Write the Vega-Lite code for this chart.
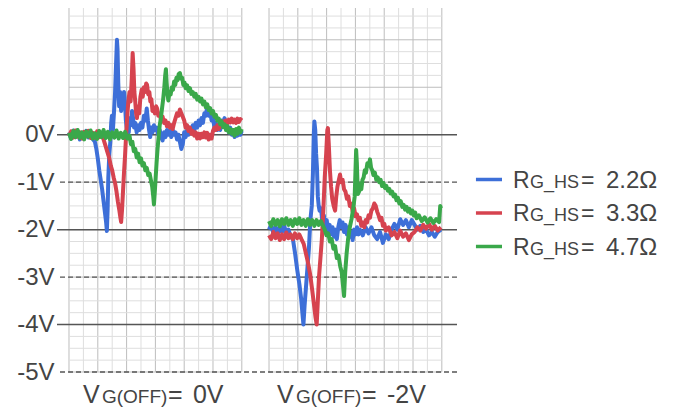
{
  "$schema": "https://vega.github.io/schema/vega-lite/v6.json",
  "width": 400,
  "height": 364,
  "autosize": {"type": "none"},
  "padding": {"left": 57, "top": 8, "right": 226, "bottom": 36},
  "background": "white",
  "config": {
    "view": {"stroke": null},
    "text": {"font": "Liberation Sans"},
    "axisY": {"domain": false, "ticks": false, "grid": false, "labelFontSize": 24, "labelFont": "Liberation Sans",
              "labelColor": "#444444", "labelPadding": 3, "titleFontSize": 0}
  },
  "datasets": {
    "traces": [
      {"k": "B0", "s": "2.2Ω", "p": "0V"},
      {"k": "B2", "s": "2.2Ω", "p": "-2V"},
      {"k": "R0", "s": "3.3Ω", "p": "0V"},
      {"k": "R2", "s": "3.3Ω", "p": "-2V"},
      {"k": "G0", "s": "4.7Ω", "p": "0V"},
      {"k": "G2", "s": "4.7Ω", "p": "-2V"}
    ],
    "levels": [{"v": 0}, {"v": -1}, {"v": -2}, {"v": -3}, {"v": -4}, {"v": -5}],
    "vgrid": [
      {"t": 0}, {"t": 1}, {"t": 2}, {"t": 3}, {"t": 4}, {"t": 5}, {"t": 6}, {"t": 7}, {"t": 8}, {"t": 9}, {"t": 10}, {"t": 11}, {"t": 12},
      {"t": 13.89}, {"t": 14.89}, {"t": 15.89}, {"t": 16.89}, {"t": 17.89}, {"t": 18.89}, {"t": 19.89}, {"t": 20.89}, {"t": 21.89}, {"t": 22.89}, {"t": 23.89}, {"t": 24.89}, {"t": 25.89}
    ],
    "hgrid": [
      {"v": -5}, {"v": -4.75}, {"v": -4.5}, {"v": -4.25}, {"v": -4}, {"v": -3.75}, {"v": -3.5}, {"v": -3.25},
      {"v": -3}, {"v": -2.75}, {"v": -2.5}, {"v": -2.25}, {"v": -2}, {"v": -1.75}, {"v": -1.5}, {"v": -1.25},
      {"v": -1}, {"v": -0.75}, {"v": -0.5}, {"v": -0.25}, {"v": 0}, {"v": 0.25}, {"v": 0.5}, {"v": 0.75},
      {"v": 1}, {"v": 1.25}, {"v": 1.5}, {"v": 1.75}, {"v": 2}, {"v": 2.25}, {"v": 2.5}
    ],
    "captions": [{"t": 0.97, "g": "0V"}, {"t": 14.44, "g": "-2V"}],
    "legend": [{"s": "2.2Ω"}, {"s": "3.3Ω"}, {"s": "4.7Ω"}],
    "pts": [
      {"k":"B0","t":0,"v":0.05},{"k":"B0","t":0.15,"v":-0.08},{"k":"B0","t":0.3,"v":0.09},{"k":"B0","t":0.45,"v":-0.05},{"k":"B0","t":0.6,"v":0.07},{"k":"B0","t":0.75,"v":-0.1},{"k":"B0","t":0.9,"v":0.04},{"k":"B0","t":1.05,"v":-0.07},{"k":"B0","t":1.2,"v":0.08},{"k":"B0","t":1.35,"v":-0.06},{"k":"B0","t":1.5,"v":0.03},{"k":"B0","t":1.65,"v":-0.09},{"k":"B0","t":1.8,"v":-0.15},{"k":"B0","t":1.9,"v":-0.3},{"k":"B0","t":2.0,"v":-0.5},{"k":"B0","t":2.1,"v":-0.75},{"k":"B0","t":2.2,"v":-0.95},{"k":"B0","t":2.3,"v":-1.15},{"k":"B0","t":2.4,"v":-1.4},{"k":"B0","t":2.5,"v":-1.65},{"k":"B0","t":2.58,"v":-1.85},{"k":"B0","t":2.63,"v":-2.03},{"k":"B0","t":2.68,"v":-1.6},{"k":"B0","t":2.73,"v":-0.9},{"k":"B0","t":2.8,"v":-0.4},{"k":"B0","t":2.87,"v":-0.15},{"k":"B0","t":2.93,"v":0.25},{"k":"B0","t":2.98,"v":0.4},{"k":"B0","t":3.05,"v":0.1},{"k":"B0","t":3.12,"v":0.45},{"k":"B0","t":3.2,"v":0.9},{"k":"B0","t":3.27,"v":1.5},{"k":"B0","t":3.33,"v":2.0},{"k":"B0","t":3.37,"v":1.8},{"k":"B0","t":3.42,"v":1.1},{"k":"B0","t":3.48,"v":0.6},{"k":"B0","t":3.55,"v":0.9},{"k":"B0","t":3.62,"v":0.5},{"k":"B0","t":3.68,"v":0.75},{"k":"B0","t":3.75,"v":0.55},{"k":"B0","t":3.82,"v":0.9},{"k":"B0","t":3.88,"v":0.7},{"k":"B0","t":3.95,"v":0.3},{"k":"B0","t":4.02,"v":0.1},{"k":"B0","t":4.08,"v":0.2},{"k":"B0","t":4.15,"v":0.05},{"k":"B0","t":4.22,"v":0.35},{"k":"B0","t":4.3,"v":0.2},{"k":"B0","t":4.38,"v":0.5},{"k":"B0","t":4.45,"v":0.35},{"k":"B0","t":4.52,"v":0.15},{"k":"B0","t":4.6,"v":0.25},{"k":"B0","t":4.7,"v":0.05},{"k":"B0","t":4.8,"v":0.2},{"k":"B0","t":4.9,"v":0.1},{"k":"B0","t":5.0,"v":0.25},{"k":"B0","t":5.1,"v":0.15},{"k":"B0","t":5.2,"v":0.4},{"k":"B0","t":5.3,"v":0.3},{"k":"B0","t":5.4,"v":0.55},{"k":"B0","t":5.48,"v":0.3},{"k":"B0","t":5.56,"v":0.1},{"k":"B0","t":5.64,"v":-0.05},{"k":"B0","t":5.72,"v":0.15},{"k":"B0","t":5.8,"v":0.05},{"k":"B0","t":5.9,"v":0.2},{"k":"B0","t":6.0,"v":0.1},{"k":"B0","t":6.1,"v":0.15},{"k":"B0","t":6.2,"v":0.0},{"k":"B0","t":6.3,"v":0.1},{"k":"B0","t":6.4,"v":-0.05},{"k":"B0","t":6.5,"v":-0.12},{"k":"B0","t":6.6,"v":0.05},{"k":"B0","t":6.7,"v":-0.05},{"k":"B0","t":6.8,"v":0.1},{"k":"B0","t":6.9,"v":0.0},{"k":"B0","t":7.0,"v":0.08},{"k":"B0","t":7.1,"v":-0.05},{"k":"B0","t":7.2,"v":0.1},{"k":"B0","t":7.3,"v":0.0},{"k":"B0","t":7.4,"v":0.05},{"k":"B0","t":7.5,"v":-0.1},{"k":"B0","t":7.6,"v":0.0},{"k":"B0","t":7.7,"v":-0.15},{"k":"B0","t":7.8,"v":-0.3},{"k":"B0","t":7.9,"v":-0.2},{"k":"B0","t":8.0,"v":0.05},{"k":"B0","t":8.1,"v":-0.05},{"k":"B0","t":8.2,"v":0.1},{"k":"B0","t":8.3,"v":0.0},{"k":"B0","t":8.4,"v":0.15},{"k":"B0","t":8.5,"v":0.05},{"k":"B0","t":8.6,"v":0.2},{"k":"B0","t":8.7,"v":0.1},{"k":"B0","t":8.8,"v":0.25},{"k":"B0","t":8.9,"v":0.15},{"k":"B0","t":9.0,"v":0.3},{"k":"B0","t":9.1,"v":0.2},{"k":"B0","t":9.2,"v":0.35},{"k":"B0","t":9.3,"v":0.25},{"k":"B0","t":9.4,"v":0.45},{"k":"B0","t":9.5,"v":0.4},{"k":"B0","t":9.6,"v":0.6},{"k":"B0","t":9.7,"v":0.4},{"k":"B0","t":9.8,"v":0.5},{"k":"B0","t":9.9,"v":0.3},{"k":"B0","t":10.0,"v":0.35},{"k":"B0","t":10.1,"v":0.15},{"k":"B0","t":10.2,"v":0.25},{"k":"B0","t":10.3,"v":0.1},{"k":"B0","t":10.4,"v":0.2},{"k":"B0","t":10.5,"v":0.1},{"k":"B0","t":10.6,"v":0.3},{"k":"B0","t":10.7,"v":0.2},{"k":"B0","t":10.8,"v":0.35},{"k":"B0","t":10.9,"v":0.25},{"k":"B0","t":11.0,"v":0.15},{"k":"B0","t":11.1,"v":0.05},{"k":"B0","t":11.2,"v":0.15},{"k":"B0","t":11.3,"v":0.0},{"k":"B0","t":11.4,"v":0.1},{"k":"B0","t":11.5,"v":-0.05},{"k":"B0","t":11.6,"v":0.1},{"k":"B0","t":11.7,"v":-0.02},{"k":"B0","t":11.8,"v":0.12},{"k":"B0","t":11.9,"v":0.0},{"k":"B0","t":12.0,"v":0.08},

      {"k":"B2","t":13.89,"v":-2.0},{"k":"B2","t":14.04,"v":-1.9},{"k":"B2","t":14.19,"v":-2.08},{"k":"B2","t":14.34,"v":-1.95},{"k":"B2","t":14.49,"v":-2.1},{"k":"B2","t":14.64,"v":-1.92},{"k":"B2","t":14.79,"v":-2.05},{"k":"B2","t":14.94,"v":-1.9},{"k":"B2","t":15.09,"v":-2.1},{"k":"B2","t":15.24,"v":-2.0},{"k":"B2","t":15.4,"v":-2.15},{"k":"B2","t":15.55,"v":-2.2},{"k":"B2","t":15.7,"v":-2.5},{"k":"B2","t":15.85,"v":-2.85},{"k":"B2","t":16.0,"v":-3.15},{"k":"B2","t":16.12,"v":-3.45},{"k":"B2","t":16.22,"v":-3.8},{"k":"B2","t":16.28,"v":-4.0},{"k":"B2","t":16.36,"v":-3.6},{"k":"B2","t":16.46,"v":-3.2},{"k":"B2","t":16.56,"v":-2.8},{"k":"B2","t":16.66,"v":-2.4},{"k":"B2","t":16.76,"v":-1.8},{"k":"B2","t":16.86,"v":-1.5},{"k":"B2","t":16.94,"v":-0.8},{"k":"B2","t":17.0,"v":0.0},{"k":"B2","t":17.04,"v":0.28},{"k":"B2","t":17.1,"v":0.1},{"k":"B2","t":17.16,"v":-0.4},{"k":"B2","t":17.22,"v":-0.7},{"k":"B2","t":17.28,"v":-1.3},{"k":"B2","t":17.34,"v":-1.5},{"k":"B2","t":17.4,"v":-1.6},{"k":"B2","t":17.5,"v":-1.55},{"k":"B2","t":17.6,"v":-1.85},{"k":"B2","t":17.7,"v":-1.7},{"k":"B2","t":17.8,"v":-1.95},{"k":"B2","t":17.9,"v":-1.8},{"k":"B2","t":18.0,"v":-2.05},{"k":"B2","t":18.1,"v":-1.9},{"k":"B2","t":18.2,"v":-2.1},{"k":"B2","t":18.3,"v":-1.95},{"k":"B2","t":18.4,"v":-2.15},{"k":"B2","t":18.5,"v":-2.0},{"k":"B2","t":18.6,"v":-2.2},{"k":"B2","t":18.7,"v":-1.95},{"k":"B2","t":18.8,"v":-1.8},{"k":"B2","t":18.9,"v":-1.95},{"k":"B2","t":19.0,"v":-1.85},{"k":"B2","t":19.1,"v":-2.05},{"k":"B2","t":19.2,"v":-1.9},{"k":"B2","t":19.3,"v":-2.1},{"k":"B2","t":19.4,"v":-1.95},{"k":"B2","t":19.5,"v":-2.15},{"k":"B2","t":19.6,"v":-2.05},{"k":"B2","t":19.7,"v":-2.22},{"k":"B2","t":19.8,"v":-2.0},{"k":"B2","t":19.9,"v":-2.1},{"k":"B2","t":20.0,"v":-1.95},{"k":"B2","t":20.1,"v":-2.1},{"k":"B2","t":20.2,"v":-2.0},{"k":"B2","t":20.4,"v":-2.12},{"k":"B2","t":20.6,"v":-1.95},{"k":"B2","t":20.8,"v":-2.08},{"k":"B2","t":21.0,"v":-1.95},{"k":"B2","t":21.2,"v":-2.12},{"k":"B2","t":21.4,"v":-2.2},{"k":"B2","t":21.6,"v":-2.05},{"k":"B2","t":21.8,"v":-2.28},{"k":"B2","t":22.0,"v":-2.1},{"k":"B2","t":22.2,"v":-2.2},{"k":"B2","t":22.4,"v":-2.0},{"k":"B2","t":22.6,"v":-1.88},{"k":"B2","t":22.8,"v":-2.0},{"k":"B2","t":23.0,"v":-1.78},{"k":"B2","t":23.2,"v":-1.9},{"k":"B2","t":23.4,"v":-1.8},{"k":"B2","t":23.6,"v":-1.95},{"k":"B2","t":23.8,"v":-1.8},{"k":"B2","t":24.0,"v":-1.9},{"k":"B2","t":24.2,"v":-2.0},{"k":"B2","t":24.4,"v":-1.92},{"k":"B2","t":24.6,"v":-2.05},{"k":"B2","t":24.8,"v":-2.0},{"k":"B2","t":25.0,"v":-2.12},{"k":"B2","t":25.2,"v":-2.05},{"k":"B2","t":25.4,"v":-2.15},{"k":"B2","t":25.6,"v":-2.05},{"k":"B2","t":25.83,"v":-2.0},

      {"k":"R0","t":0,"v":-0.03},{"k":"R0","t":0.15,"v":0.07},{"k":"R0","t":0.3,"v":-0.06},{"k":"R0","t":0.45,"v":0.09},{"k":"R0","t":0.6,"v":-0.04},{"k":"R0","t":0.75,"v":0.05},{"k":"R0","t":0.9,"v":-0.08},{"k":"R0","t":1.05,"v":0.06},{"k":"R0","t":1.2,"v":-0.03},{"k":"R0","t":1.35,"v":0.08},{"k":"R0","t":1.5,"v":-0.07},{"k":"R0","t":1.65,"v":0.04},{"k":"R0","t":1.8,"v":-0.06},{"k":"R0","t":1.95,"v":0.07},{"k":"R0","t":2.1,"v":-0.05},{"k":"R0","t":2.25,"v":0.03},{"k":"R0","t":2.4,"v":-0.1},{"k":"R0","t":2.5,"v":-0.2},{"k":"R0","t":2.6,"v":-0.3},{"k":"R0","t":2.7,"v":-0.4},{"k":"R0","t":2.8,"v":-0.5},{"k":"R0","t":2.9,"v":-0.65},{"k":"R0","t":3.0,"v":-0.75},{"k":"R0","t":3.1,"v":-0.9},{"k":"R0","t":3.2,"v":-1.02},{"k":"R0","t":3.3,"v":-1.2},{"k":"R0","t":3.4,"v":-1.42},{"k":"R0","t":3.5,"v":-1.6},{"k":"R0","t":3.57,"v":-1.75},{"k":"R0","t":3.62,"v":-1.84},{"k":"R0","t":3.68,"v":-1.6},{"k":"R0","t":3.75,"v":-1.2},{"k":"R0","t":3.82,"v":-0.8},{"k":"R0","t":3.89,"v":-0.45},{"k":"R0","t":3.95,"v":-0.1},{"k":"R0","t":4.0,"v":0.15},{"k":"R0","t":4.06,"v":0.45},{"k":"R0","t":4.12,"v":0.7},{"k":"R0","t":4.2,"v":0.9},{"k":"R0","t":4.28,"v":0.7},{"k":"R0","t":4.36,"v":1.2},{"k":"R0","t":4.42,"v":1.72},{"k":"R0","t":4.48,"v":1.4},{"k":"R0","t":4.54,"v":0.9},{"k":"R0","t":4.6,"v":0.7},{"k":"R0","t":4.66,"v":0.45},{"k":"R0","t":4.72,"v":0.35},{"k":"R0","t":4.8,"v":0.6},{"k":"R0","t":4.88,"v":0.45},{"k":"R0","t":4.96,"v":0.8},{"k":"R0","t":5.05,"v":0.95},{"k":"R0","t":5.12,"v":0.8},{"k":"R0","t":5.2,"v":1.0},{"k":"R0","t":5.28,"v":0.9},{"k":"R0","t":5.36,"v":1.08},{"k":"R0","t":5.42,"v":1.05},{"k":"R0","t":5.5,"v":0.85},{"k":"R0","t":5.58,"v":0.9},{"k":"R0","t":5.65,"v":0.7},{"k":"R0","t":5.72,"v":0.75},{"k":"R0","t":5.8,"v":0.5},{"k":"R0","t":5.88,"v":0.55},{"k":"R0","t":5.96,"v":0.45},{"k":"R0","t":6.05,"v":0.6},{"k":"R0","t":6.12,"v":0.55},{"k":"R0","t":6.2,"v":0.4},{"k":"R0","t":6.3,"v":0.45},{"k":"R0","t":6.4,"v":0.3},{"k":"R0","t":6.5,"v":0.38},{"k":"R0","t":6.6,"v":0.25},{"k":"R0","t":6.7,"v":0.3},{"k":"R0","t":6.8,"v":0.18},{"k":"R0","t":6.9,"v":0.25},{"k":"R0","t":7.0,"v":0.15},{"k":"R0","t":7.1,"v":0.2},{"k":"R0","t":7.2,"v":0.12},{"k":"R0","t":7.3,"v":0.25},{"k":"R0","t":7.4,"v":0.35},{"k":"R0","t":7.5,"v":0.45},{"k":"R0","t":7.6,"v":0.4},{"k":"R0","t":7.7,"v":0.53},{"k":"R0","t":7.8,"v":0.45},{"k":"R0","t":7.9,"v":0.38},{"k":"R0","t":8.0,"v":0.3},{"k":"R0","t":8.1,"v":0.15},{"k":"R0","t":8.2,"v":0.2},{"k":"R0","t":8.3,"v":0.08},{"k":"R0","t":8.4,"v":0.15},{"k":"R0","t":8.5,"v":0.02},{"k":"R0","t":8.6,"v":0.08},{"k":"R0","t":8.7,"v":-0.02},{"k":"R0","t":8.8,"v":0.05},{"k":"R0","t":8.9,"v":-0.08},{"k":"R0","t":9.0,"v":0.02},{"k":"R0","t":9.1,"v":-0.08},{"k":"R0","t":9.2,"v":0.02},{"k":"R0","t":9.3,"v":-0.05},{"k":"R0","t":9.4,"v":0.05},{"k":"R0","t":9.5,"v":-0.06},{"k":"R0","t":9.6,"v":0.04},{"k":"R0","t":9.7,"v":-0.1},{"k":"R0","t":9.8,"v":0.0},{"k":"R0","t":9.9,"v":-0.08},{"k":"R0","t":10.0,"v":0.08},{"k":"R0","t":10.1,"v":0.15},{"k":"R0","t":10.2,"v":0.1},{"k":"R0","t":10.3,"v":0.2},{"k":"R0","t":10.4,"v":0.12},{"k":"R0","t":10.5,"v":0.22},{"k":"R0","t":10.6,"v":0.18},{"k":"R0","t":10.7,"v":0.28},{"k":"R0","t":10.8,"v":0.22},{"k":"R0","t":10.9,"v":0.3},{"k":"R0","t":11.0,"v":0.24},{"k":"R0","t":11.1,"v":0.32},{"k":"R0","t":11.2,"v":0.26},{"k":"R0","t":11.3,"v":0.34},{"k":"R0","t":11.4,"v":0.26},{"k":"R0","t":11.5,"v":0.32},{"k":"R0","t":11.6,"v":0.25},{"k":"R0","t":11.7,"v":0.34},{"k":"R0","t":11.8,"v":0.27},{"k":"R0","t":11.9,"v":0.33},{"k":"R0","t":12.0,"v":0.3},

      {"k":"R2","t":13.89,"v":-2.12},{"k":"R2","t":14.04,"v":-2.2},{"k":"R2","t":14.19,"v":-2.05},{"k":"R2","t":14.34,"v":-2.18},{"k":"R2","t":14.49,"v":-2.08},{"k":"R2","t":14.64,"v":-2.22},{"k":"R2","t":14.79,"v":-2.1},{"k":"R2","t":14.94,"v":-2.2},{"k":"R2","t":15.09,"v":-2.06},{"k":"R2","t":15.24,"v":-2.18},{"k":"R2","t":15.39,"v":-2.1},{"k":"R2","t":15.54,"v":-2.2},{"k":"R2","t":15.69,"v":-2.08},{"k":"R2","t":15.84,"v":-2.18},{"k":"R2","t":15.99,"v":-2.1},{"k":"R2","t":16.14,"v":-2.2},{"k":"R2","t":16.3,"v":-2.3},{"k":"R2","t":16.45,"v":-2.5},{"k":"R2","t":16.6,"v":-2.7},{"k":"R2","t":16.75,"v":-2.95},{"k":"R2","t":16.9,"v":-3.3},{"k":"R2","t":17.02,"v":-3.6},{"k":"R2","t":17.12,"v":-3.85},{"k":"R2","t":17.2,"v":-4.0},{"k":"R2","t":17.28,"v":-3.5},{"k":"R2","t":17.36,"v":-3.0},{"k":"R2","t":17.46,"v":-2.6},{"k":"R2","t":17.56,"v":-2.2},{"k":"R2","t":17.66,"v":-1.6},{"k":"R2","t":17.76,"v":-0.9},{"k":"R2","t":17.86,"v":-0.4},{"k":"R2","t":17.94,"v":0.1},{"k":"R2","t":17.98,"v":0.14},{"k":"R2","t":18.04,"v":-0.2},{"k":"R2","t":18.12,"v":-0.75},{"k":"R2","t":18.2,"v":-1.1},{"k":"R2","t":18.28,"v":-1.35},{"k":"R2","t":18.38,"v":-1.5},{"k":"R2","t":18.48,"v":-1.6},{"k":"R2","t":18.56,"v":-1.3},{"k":"R2","t":18.64,"v":-1.1},{"k":"R2","t":18.74,"v":-0.95},{"k":"R2","t":18.82,"v":-0.84},{"k":"R2","t":18.9,"v":-1.0},{"k":"R2","t":19.0,"v":-0.95},{"k":"R2","t":19.1,"v":-1.15},{"k":"R2","t":19.2,"v":-1.2},{"k":"R2","t":19.3,"v":-1.35},{"k":"R2","t":19.4,"v":-1.3},{"k":"R2","t":19.5,"v":-1.5},{"k":"R2","t":19.6,"v":-1.45},{"k":"R2","t":19.7,"v":-1.62},{"k":"R2","t":19.8,"v":-1.55},{"k":"R2","t":19.9,"v":-1.72},{"k":"R2","t":20.0,"v":-1.68},{"k":"R2","t":20.1,"v":-1.8},{"k":"R2","t":20.2,"v":-1.75},{"k":"R2","t":20.3,"v":-1.92},{"k":"R2","t":20.4,"v":-1.85},{"k":"R2","t":20.5,"v":-1.95},{"k":"R2","t":20.6,"v":-1.8},{"k":"R2","t":20.7,"v":-1.85},{"k":"R2","t":20.8,"v":-1.7},{"k":"R2","t":20.9,"v":-1.75},{"k":"R2","t":21.0,"v":-1.6},{"k":"R2","t":21.1,"v":-1.55},{"k":"R2","t":21.2,"v":-1.45},{"k":"R2","t":21.3,"v":-1.5},{"k":"R2","t":21.4,"v":-1.62},{"k":"R2","t":21.5,"v":-1.7},{"k":"R2","t":21.6,"v":-1.8},{"k":"R2","t":21.7,"v":-1.75},{"k":"R2","t":21.8,"v":-1.92},{"k":"R2","t":21.9,"v":-1.88},{"k":"R2","t":22.0,"v":-2.02},{"k":"R2","t":22.2,"v":-1.95},{"k":"R2","t":22.4,"v":-2.12},{"k":"R2","t":22.6,"v":-2.05},{"k":"R2","t":22.8,"v":-2.18},{"k":"R2","t":23.0,"v":-2.02},{"k":"R2","t":23.2,"v":-2.15},{"k":"R2","t":23.4,"v":-2.08},{"k":"R2","t":23.6,"v":-2.22},{"k":"R2","t":23.8,"v":-2.1},{"k":"R2","t":24.0,"v":-2.05},{"k":"R2","t":24.2,"v":-1.95},{"k":"R2","t":24.4,"v":-2.02},{"k":"R2","t":24.6,"v":-1.9},{"k":"R2","t":24.8,"v":-1.98},{"k":"R2","t":25.0,"v":-1.88},{"k":"R2","t":25.2,"v":-2.0},{"k":"R2","t":25.4,"v":-1.92},{"k":"R2","t":25.6,"v":-2.02},{"k":"R2","t":25.83,"v":-1.95},

      {"k":"G0","t":0,"v":0.04},{"k":"G0","t":0.15,"v":-0.09},{"k":"G0","t":0.3,"v":0.08},{"k":"G0","t":0.45,"v":-0.05},{"k":"G0","t":0.6,"v":0.1},{"k":"G0","t":0.75,"v":-0.07},{"k":"G0","t":0.9,"v":0.05},{"k":"G0","t":1.05,"v":-0.1},{"k":"G0","t":1.2,"v":0.07},{"k":"G0","t":1.35,"v":-0.04},{"k":"G0","t":1.5,"v":0.09},{"k":"G0","t":1.65,"v":-0.08},{"k":"G0","t":1.8,"v":0.03},{"k":"G0","t":1.95,"v":-0.09},{"k":"G0","t":2.1,"v":0.08},{"k":"G0","t":2.25,"v":-0.05},{"k":"G0","t":2.4,"v":0.1},{"k":"G0","t":2.55,"v":-0.07},{"k":"G0","t":2.7,"v":0.06},{"k":"G0","t":2.85,"v":-0.1},{"k":"G0","t":3.0,"v":0.05},{"k":"G0","t":3.15,"v":-0.06},{"k":"G0","t":3.3,"v":0.09},{"k":"G0","t":3.45,"v":-0.08},{"k":"G0","t":3.6,"v":0.04},{"k":"G0","t":3.75,"v":-0.07},{"k":"G0","t":3.9,"v":0.06},{"k":"G0","t":4.05,"v":-0.08},{"k":"G0","t":4.2,"v":-0.02},{"k":"G0","t":4.3,"v":-0.2},{"k":"G0","t":4.4,"v":-0.15},{"k":"G0","t":4.5,"v":-0.35},{"k":"G0","t":4.6,"v":-0.3},{"k":"G0","t":4.7,"v":-0.48},{"k":"G0","t":4.8,"v":-0.4},{"k":"G0","t":4.9,"v":-0.58},{"k":"G0","t":5.0,"v":-0.5},{"k":"G0","t":5.1,"v":-0.65},{"k":"G0","t":5.2,"v":-0.6},{"k":"G0","t":5.3,"v":-0.75},{"k":"G0","t":5.4,"v":-0.7},{"k":"G0","t":5.5,"v":-0.85},{"k":"G0","t":5.6,"v":-0.82},{"k":"G0","t":5.7,"v":-0.98},{"k":"G0","t":5.78,"v":-1.1},{"k":"G0","t":5.85,"v":-1.3},{"k":"G0","t":5.9,"v":-1.47},{"k":"G0","t":5.96,"v":-1.2},{"k":"G0","t":6.02,"v":-0.9},{"k":"G0","t":6.08,"v":-0.6},{"k":"G0","t":6.15,"v":-0.3},{"k":"G0","t":6.22,"v":-0.05},{"k":"G0","t":6.3,"v":0.2},{"k":"G0","t":6.38,"v":0.35},{"k":"G0","t":6.46,"v":0.55},{"k":"G0","t":6.54,"v":0.75},{"k":"G0","t":6.62,"v":1.0},{"k":"G0","t":6.68,"v":1.25},{"k":"G0","t":6.73,"v":1.38},{"k":"G0","t":6.78,"v":1.1},{"k":"G0","t":6.84,"v":0.85},{"k":"G0","t":6.9,"v":0.72},{"k":"G0","t":6.98,"v":0.9},{"k":"G0","t":7.06,"v":0.85},{"k":"G0","t":7.14,"v":1.0},{"k":"G0","t":7.22,"v":0.95},{"k":"G0","t":7.3,"v":1.12},{"k":"G0","t":7.38,"v":1.05},{"k":"G0","t":7.46,"v":1.2},{"k":"G0","t":7.54,"v":1.15},{"k":"G0","t":7.62,"v":1.28},{"k":"G0","t":7.7,"v":1.3},{"k":"G0","t":7.78,"v":1.18},{"k":"G0","t":7.86,"v":1.2},{"k":"G0","t":7.94,"v":1.05},{"k":"G0","t":8.02,"v":1.1},{"k":"G0","t":8.1,"v":0.98},{"k":"G0","t":8.2,"v":1.04},{"k":"G0","t":8.3,"v":0.92},{"k":"G0","t":8.4,"v":0.98},{"k":"G0","t":8.5,"v":0.86},{"k":"G0","t":8.6,"v":0.9},{"k":"G0","t":8.7,"v":0.8},{"k":"G0","t":8.8,"v":0.86},{"k":"G0","t":8.9,"v":0.74},{"k":"G0","t":9.0,"v":0.8},{"k":"G0","t":9.1,"v":0.7},{"k":"G0","t":9.2,"v":0.76},{"k":"G0","t":9.3,"v":0.64},{"k":"G0","t":9.4,"v":0.7},{"k":"G0","t":9.5,"v":0.58},{"k":"G0","t":9.6,"v":0.64},{"k":"G0","t":9.7,"v":0.52},{"k":"G0","t":9.8,"v":0.56},{"k":"G0","t":9.9,"v":0.45},{"k":"G0","t":10.0,"v":0.5},{"k":"G0","t":10.1,"v":0.38},{"k":"G0","t":10.2,"v":0.42},{"k":"G0","t":10.3,"v":0.3},{"k":"G0","t":10.4,"v":0.34},{"k":"G0","t":10.5,"v":0.22},{"k":"G0","t":10.6,"v":0.28},{"k":"G0","t":10.7,"v":0.16},{"k":"G0","t":10.8,"v":0.22},{"k":"G0","t":10.9,"v":0.1},{"k":"G0","t":11.0,"v":0.18},{"k":"G0","t":11.1,"v":0.05},{"k":"G0","t":11.2,"v":0.12},{"k":"G0","t":11.3,"v":0.02},{"k":"G0","t":11.4,"v":0.1},{"k":"G0","t":11.5,"v":-0.02},{"k":"G0","t":11.6,"v":0.12},{"k":"G0","t":11.7,"v":0.02},{"k":"G0","t":11.8,"v":0.15},{"k":"G0","t":11.9,"v":0.05},{"k":"G0","t":12.0,"v":0.12},

      {"k":"G2","t":13.89,"v":-1.82},{"k":"G2","t":14.04,"v":-1.92},{"k":"G2","t":14.19,"v":-1.78},{"k":"G2","t":14.34,"v":-1.9},{"k":"G2","t":14.49,"v":-1.8},{"k":"G2","t":14.64,"v":-1.93},{"k":"G2","t":14.79,"v":-1.78},{"k":"G2","t":14.94,"v":-1.88},{"k":"G2","t":15.09,"v":-1.76},{"k":"G2","t":15.24,"v":-1.9},{"k":"G2","t":15.39,"v":-1.8},{"k":"G2","t":15.54,"v":-1.92},{"k":"G2","t":15.69,"v":-1.78},{"k":"G2","t":15.84,"v":-1.88},{"k":"G2","t":15.99,"v":-1.76},{"k":"G2","t":16.14,"v":-1.9},{"k":"G2","t":16.29,"v":-1.8},{"k":"G2","t":16.44,"v":-1.92},{"k":"G2","t":16.59,"v":-1.78},{"k":"G2","t":16.74,"v":-1.9},{"k":"G2","t":16.89,"v":-1.8},{"k":"G2","t":17.04,"v":-1.92},{"k":"G2","t":17.19,"v":-1.8},{"k":"G2","t":17.34,"v":-1.9},{"k":"G2","t":17.49,"v":-1.82},{"k":"G2","t":17.64,"v":-1.92},{"k":"G2","t":17.76,"v":-2.0},{"k":"G2","t":17.88,"v":-2.12},{"k":"G2","t":18.0,"v":-2.08},{"k":"G2","t":18.12,"v":-2.25},{"k":"G2","t":18.24,"v":-2.2},{"k":"G2","t":18.36,"v":-2.4},{"k":"G2","t":18.48,"v":-2.35},{"k":"G2","t":18.6,"v":-2.6},{"k":"G2","t":18.72,"v":-2.55},{"k":"G2","t":18.84,"v":-2.78},{"k":"G2","t":18.94,"v":-2.9},{"k":"G2","t":19.02,"v":-3.15},{"k":"G2","t":19.1,"v":-3.4},{"k":"G2","t":19.18,"v":-2.9},{"k":"G2","t":19.28,"v":-2.5},{"k":"G2","t":19.38,"v":-2.2},{"k":"G2","t":19.5,"v":-1.95},{"k":"G2","t":19.62,"v":-1.78},{"k":"G2","t":19.74,"v":-1.55},{"k":"G2","t":19.84,"v":-1.3},{"k":"G2","t":19.9,"v":-0.7},{"k":"G2","t":19.94,"v":-0.32},{"k":"G2","t":19.99,"v":-0.6},{"k":"G2","t":20.06,"v":-1.25},{"k":"G2","t":20.14,"v":-1.2},{"k":"G2","t":20.22,"v":-1.05},{"k":"G2","t":20.3,"v":-1.15},{"k":"G2","t":20.38,"v":-0.95},{"k":"G2","t":20.46,"v":-0.9},{"k":"G2","t":20.54,"v":-0.75},{"k":"G2","t":20.62,"v":-0.8},{"k":"G2","t":20.72,"v":-0.6},{"k":"G2","t":20.82,"v":-0.65},{"k":"G2","t":20.9,"v":-0.52},{"k":"G2","t":20.98,"v":-0.7},{"k":"G2","t":21.06,"v":-0.75},{"k":"G2","t":21.14,"v":-0.85},{"k":"G2","t":21.24,"v":-0.8},{"k":"G2","t":21.34,"v":-0.95},{"k":"G2","t":21.44,"v":-0.9},{"k":"G2","t":21.54,"v":-1.0},{"k":"G2","t":21.64,"v":-0.95},{"k":"G2","t":21.74,"v":-1.08},{"k":"G2","t":21.84,"v":-1.02},{"k":"G2","t":21.94,"v":-1.12},{"k":"G2","t":22.04,"v":-1.08},{"k":"G2","t":22.14,"v":-1.18},{"k":"G2","t":22.24,"v":-1.14},{"k":"G2","t":22.34,"v":-1.24},{"k":"G2","t":22.44,"v":-1.2},{"k":"G2","t":22.54,"v":-1.3},{"k":"G2","t":22.64,"v":-1.26},{"k":"G2","t":22.74,"v":-1.38},{"k":"G2","t":22.84,"v":-1.33},{"k":"G2","t":22.94,"v":-1.45},{"k":"G2","t":23.04,"v":-1.4},{"k":"G2","t":23.14,"v":-1.52},{"k":"G2","t":23.24,"v":-1.48},{"k":"G2","t":23.34,"v":-1.58},{"k":"G2","t":23.44,"v":-1.52},{"k":"G2","t":23.54,"v":-1.62},{"k":"G2","t":23.64,"v":-1.56},{"k":"G2","t":23.74,"v":-1.66},{"k":"G2","t":23.84,"v":-1.6},{"k":"G2","t":23.94,"v":-1.7},{"k":"G2","t":24.04,"v":-1.64},{"k":"G2","t":24.14,"v":-1.76},{"k":"G2","t":24.3,"v":-1.7},{"k":"G2","t":24.5,"v":-1.82},{"k":"G2","t":24.7,"v":-1.74},{"k":"G2","t":24.9,"v":-1.85},{"k":"G2","t":25.1,"v":-1.76},{"k":"G2","t":25.3,"v":-1.86},{"k":"G2","t":25.5,"v":-1.78},{"k":"G2","t":25.7,"v":-1.84},{"k":"G2","t":25.78,"v":-1.5},{"k":"G2","t":25.83,"v":-1.55}
    ]
  },
  "resolve": {"scale": {"y": "independent"}},
  "layer": [
    {
      "layer": [
        {
          "data": {"name": "vgrid"},
          "mark": {"type": "rule", "strokeWidth": 1},
          "encoding": {
            "x": {"field": "t", "type": "quantitative", "axis": null,
                  "scale": {"domain": [-0.8333, 26.9444], "nice": false, "zero": false}},
            "stroke": {"condition": {"test": "abs(((datum.t >= 13 ? datum.t - 13.89 : datum.t) + 0.01) % 2) < 0.05", "value": "#bdbdbd"}, "value": "#dedede"}
          }
        },
        {
          "data": {"name": "hgrid"},
          "mark": {"type": "rule", "strokeWidth": 1},
          "encoding": {
            "y": {"field": "v", "type": "quantitative", "title": null,
                  "axis": {"values": [0, -1, -2, -3, -4, -5], "labelExpr": "datum.value + 'V'"},
                  "scale": {"domain": [-5, 2.67], "nice": false, "zero": false}},
            "x": {"datum": 0, "type": "quantitative", "axis": null},
            "x2": {"datum": 12},
            "stroke": {"condition": {"test": "datum.v % 1 == 0", "value": "#bdbdbd"}, "value": "#dedede"}
          }
        },
        {
          "data": {"name": "hgrid"},
          "mark": {"type": "rule", "strokeWidth": 1},
          "encoding": {
            "y": {"field": "v", "type": "quantitative", "title": null,
                  "axis": {"values": [0, -1, -2, -3, -4, -5], "labelExpr": "datum.value + 'V'"}},
            "x": {"datum": 13.89, "type": "quantitative", "axis": null},
            "x2": {"datum": 25.89},
            "stroke": {"condition": {"test": "datum.v % 1 == 0", "value": "#bdbdbd"}, "value": "#dedede"}
          }
        },
        {
          "data": {"name": "levels"},
          "transform": [{"filter": "datum.v % 2 == 0"}],
          "mark": {"type": "rule", "color": "#555555", "strokeWidth": 1.5},
          "encoding": {
            "y": {"field": "v", "type": "quantitative", "title": null,
                  "axis": {"values": [0, -1, -2, -3, -4, -5], "labelExpr": "datum.value + 'V'"}}
          }
        },
        {
          "data": {"name": "levels"},
          "transform": [{"filter": "datum.v % 2 != 0"}],
          "mark": {"type": "rule", "color": "#555555", "strokeWidth": 1.3, "strokeDash": [5, 3]},
          "encoding": {
            "y": {"field": "v", "type": "quantitative", "title": null,
                  "axis": {"values": [0, -1, -2, -3, -4, -5], "labelExpr": "datum.value + 'V'"}}
          }
        },
        {
          "data": {"name": "pts"},
          "transform": [{"lookup": "k", "from": {"data": {"name": "traces"}, "key": "k", "fields": ["s", "p"]}}],
          "mark": {"type": "line", "strokeWidth": 4, "strokeJoin": "round"},
          "encoding": {
            "x": {"field": "t", "type": "quantitative", "axis": null},
            "y": {"field": "v", "type": "quantitative", "title": null,
                  "axis": {"values": [0, -1, -2, -3, -4, -5], "labelExpr": "datum.value + 'V'"}},
            "color": {"field": "s", "type": "nominal", "legend": null,
                      "scale": {"domain": ["2.2Ω", "3.3Ω", "4.7Ω"], "range": ["#3d6fd8", "#d6434f", "#3aa84a"]}},
            "detail": {"field": "k"}
          }
        },
        {
          "data": {"name": "captions"},
          "mark": {"type": "text", "align": "left", "baseline": "alphabetic", "fontSize": 25, "color": "#444444"},
          "encoding": {
            "x": {"field": "t", "type": "quantitative", "axis": null},
            "y": {"datum": -5.65, "type": "quantitative", "title": null,
                  "axis": {"values": [0, -1, -2, -3, -4, -5], "labelExpr": "datum.value + 'V'"}},
            "text": {"value": "V"}
          }
        },
        {
          "data": {"name": "captions"},
          "mark": {"type": "text", "align": "left", "baseline": "alphabetic", "fontSize": 19, "dx": 19, "color": "#444444"},
          "encoding": {
            "x": {"field": "t", "type": "quantitative", "axis": null},
            "y": {"datum": -5.65, "type": "quantitative", "title": null,
                  "axis": {"values": [0, -1, -2, -3, -4, -5], "labelExpr": "datum.value + 'V'"}},
            "text": {"value": "G(OFF)"}
          }
        },
        {
          "data": {"name": "captions"},
          "mark": {"type": "text", "align": "left", "baseline": "alphabetic", "fontSize": 25, "dx": 85, "color": "#444444"},
          "encoding": {
            "x": {"field": "t", "type": "quantitative", "axis": null},
            "y": {"datum": -5.65, "type": "quantitative", "title": null,
                  "axis": {"values": [0, -1, -2, -3, -4, -5], "labelExpr": "datum.value + 'V'"}},
            "text": {"value": "="}
          }
        },
        {
          "data": {"name": "captions"},
          "mark": {"type": "text", "align": "left", "baseline": "alphabetic", "fontSize": 25, "dx": 110, "color": "#444444"},
          "encoding": {
            "x": {"field": "t", "type": "quantitative", "axis": null},
            "y": {"datum": -5.65, "type": "quantitative", "title": null,
                  "axis": {"values": [0, -1, -2, -3, -4, -5], "labelExpr": "datum.value + 'V'"}},
            "text": {"field": "g"}
          }
        }
      ]
    },
    {
      "data": {"name": "legend"},
      "encoding": {
        "y": {"field": "s", "type": "nominal", "axis": null,
              "scale": {"type": "point", "domain": ["2.2Ω", "3.3Ω", "4.7Ω"], "range": [171.5, 238.5], "padding": 0}}
      },
      "layer": [
        {
          "mark": {"type": "rule", "strokeWidth": 3.5},
          "encoding": {
            "x": {"datum": 28.26, "type": "quantitative", "axis": null},
            "x2": {"datum": 30.07},
            "color": {"field": "s", "type": "nominal", "legend": null}
          }
        },
        {
          "mark": {"type": "text", "align": "left", "baseline": "alphabetic", "fontSize": 23, "dx": 11, "dy": 8, "color": "#444444"},
          "encoding": {
            "x": {"datum": 30.07, "type": "quantitative", "axis": null},
            "text": {"value": "R"}
          }
        },
        {
          "mark": {"type": "text", "align": "left", "baseline": "alphabetic", "fontSize": 18, "dx": 28, "dy": 8, "color": "#444444"},
          "encoding": {
            "x": {"datum": 30.07, "type": "quantitative", "axis": null},
            "text": {"value": "G_HS"}
          }
        },
        {
          "mark": {"type": "text", "align": "left", "baseline": "alphabetic", "fontSize": 23, "dx": 79, "dy": 8, "color": "#444444"},
          "encoding": {
            "x": {"datum": 30.07, "type": "quantitative", "axis": null},
            "text": {"value": "="}
          }
        },
        {
          "mark": {"type": "text", "align": "left", "baseline": "alphabetic", "fontSize": 24, "dx": 104, "dy": 8, "color": "#444444"},
          "encoding": {
            "x": {"datum": 30.07, "type": "quantitative", "axis": null},
            "text": {"field": "s"}
          }
        }
      ]
    }
  ]
}
